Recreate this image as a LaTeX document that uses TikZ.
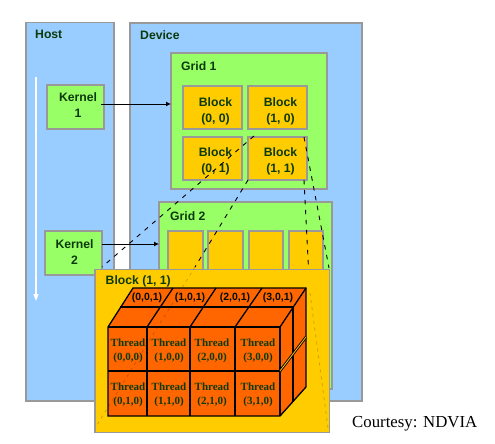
\documentclass[tikz,border=0pt]{standalone}
\usepackage{fontspec}
\setmainfont{Liberation Sans}
\newfontfamily\timesf{Liberation Serif}
\usetikzlibrary{arrows.meta,calc}
\definecolor{hostblue}{HTML}{99CCFF}
\definecolor{gridgreen}{HTML}{99FF66}
\definecolor{blockgold}{HTML}{FFCC00}
\definecolor{threadorange}{HTML}{FF6600}
\definecolor{edgegray}{HTML}{999999}
\definecolor{inkgreen}{HTML}{0C3A0C}
\newcommand{\bx}[6]{%
  \pgfmathsetmacro{\bw}{#5-#3}\pgfmathsetmacro{\bh}{#6-#4}%
  \node[#2,anchor=north west,minimum width=\bw pt,minimum height=\bh pt] (#1) at (#3,#4) {};}
\tikzset{
  panel/.style={draw=edgegray,line width=1.8pt,inner sep=0pt,outer sep=0pt,rectangle},
  hostbox/.style={panel,fill=hostblue},
  greenbox/.style={panel,fill=gridgreen},
  goldbox/.style={panel,fill=blockgold},
  lab/.style={font=\fontsize{12.2}{14}\selectfont\bfseries,text=inkgreen,inner sep=0pt,align=center},
  blocklab/.style={lab,font=\fontsize{12.2}{16}\selectfont\bfseries},
  kernlab/.style={lab,font=\fontsize{12.2}{16.5}\selectfont\bfseries},
  threadlab/.style={font=\timesf\fontsize{11}{13.5}\selectfont\bfseries,text=inkgreen,inner sep=0pt,align=center},
  toplab/.style={font=\fontsize{10.5}{12}\selectfont\bfseries,text=black!80!inkgreen,inner sep=0pt},
  callarrow/.style={draw=black,line width=1pt,-{Latex[length=5pt,width=5pt]}},
  zoomline/.style={draw=black,line width=0.9pt,dash pattern=on 4.5pt off 5.5pt},
  faintline/.style={draw=black,opacity=0.2,line width=0.8pt,dash pattern=on 3pt off 4pt},
  cubeface/.style={fill=threadorange,draw=black,line width=1.3pt,line join=miter},
  cubeline/.style={draw=black,line width=1.3pt},
}
\begin{document}
\begin{tikzpicture}[x=1pt,y=-1pt]
\useasboundingbox (0,0) rectangle (495,444);
% containers
\bx{host}{hostbox}{26}{22.5}{114}{401}
\bx{device}{hostbox}{130}{23}{362}{401}
\bx{grid1}{greenbox}{171}{53}{327}{189}
\bx{grid2}{greenbox}{159}{202}{332}{389}
% grid 1 blocks
\bx{b00}{goldbox}{183}{86}{242}{129}
\bx{b10}{goldbox}{248}{86}{307}{129}
\bx{b01}{goldbox}{183}{137}{242}{180}
\bx{b11}{goldbox}{248}{137}{307}{180}
% grid 2 blocks
\bx{ga}{goldbox}{168}{231}{203}{280}
\bx{gb}{goldbox}{208}{231}{243}{280}
\bx{gc}{goldbox}{249}{231}{283}{280}
\bx{gd}{goldbox}{289}{231}{323}{280}
% kernels
\bx{k1}{greenbox}{47}{85}{104}{129}
\bx{k2}{greenbox}{45}{231}{102}{275}
% texts
\node[lab,anchor=west] (thost) at (35,34) {Host};
\node[lab,anchor=west] (tdev) at (140,35) {Device};
\node[lab,anchor=west] (tg1) at (181,66) {Grid 1};
\node[lab,anchor=west] (tg2) at (170,216) {Grid 2};
\node[kernlab] (tk1) at (78,105) {Kernel\\1};
\node[kernlab] (tk2) at (74.5,252) {Kernel\\2};
\node[blocklab] (tb00) at (215.5,111) {Block\\(0, 0)};
\node[blocklab] (tb10) at (280.5,111) {Block\\(1, 0)};
\node[blocklab] (tb01) at (215.5,161) {Block\\(0, 1)};
\node[blocklab] (tb11) at (280.5,161) {Block\\(1, 1)};
% white execution arrow
\coordinate (ws) at (36,77);
\coordinate (we) at (36,301);
\draw[white,line width=1.4pt,-{Triangle[length=7pt,width=5pt]}] (ws) -- (we);
% kernel arrows
\coordinate (ka) at (101,104);
\draw[callarrow] (ka) -- (ka -| grid1.west);
\coordinate (kb) at (102,244);
\draw[callarrow] (kb) -- (kb -| grid2.west);
% dashed zoom lines
\coordinate (astart) at (254,136);
\coordinate (bstart) at (248,180);
\coordinate (cstart) at (304,137);
\coordinate (dstart) at (304,180);
\coordinate (aend) at (102,267);
\coordinate (bend) at (195,267);
\coordinate (cend) at (329,268);
\coordinate (dend) at (308.5,268);
\draw[zoomline] (astart) -- (aend);
\draw[zoomline] (bstart) -- (bend);
\draw[zoomline] (cstart) -- (cend);
\draw[zoomline] (dstart) -- (dend);
% enlarged block
\bx{big}{goldbox}{95}{269.5}{329.5}{432.5}
\node[lab,anchor=west] (tbig) at (105.5,281) {Block (1, 1)};
% thread cube
\coordinate (f1) at (108,327); \coordinate (f2) at (280,327);
\coordinate (f3) at (280,416); \coordinate (f4) at (108,416);
\coordinate (r1) at (133,288); \coordinate (r2) at (306,288);
\coordinate (r3) at (306,387);
\draw[cubeface] (f1) -- (r1) -- (r2) -- (r3) -- (f3) -- (f4) -- cycle;
\draw[cubeline] (f1) -- (f2) -- (f3);
\draw[cubeline] (f2) -- (r2);
\draw[cubeline] (120,307) -- (293,307) -- (293,402);
\foreach \fx/\bxx in {147/173,190/216,235/262}{
  \draw[cubeline] (\fx,327) -- (\fx,416);
  \draw[cubeline] (\fx,327) -- (\bxx,288);
}
\draw[cubeline] (108,371) -- (280,371);
\draw[draw=black,line width=2.6pt] (280,371) -- (306,337);
\draw[draw=blockgold,line width=0.8pt] (280,371) -- (306,337);
% faint continuations
\coordinate (fa) at (97,425);
\coordinate (fb) at (310,293);
\coordinate (fc) at (328,428);
\draw[faintline] (bend) -- (fa);
\draw[faintline] (fb) -- (fc);
% cube labels
\foreach \n/\x/\t in {a/147/{(0,0,1)},b/190/{(1,0,1)},c/235/{(2,0,1)},d/278/{(3,0,1)}}{
  \node[toplab] (top\n) at (\x,298) {\t};
}
\foreach \n/\x/\y/\t in {a/128/351/{(0,0,0)},b/169/351/{(1,0,0)},c/212/351/{(2,0,0)},d/258/351/{(3,0,0)},
                        e/128/395/{(0,1,0)},f/169/395/{(1,1,0)},g/212/395/{(2,1,0)},h/258/395/{(3,1,0)}}{
  \node[threadlab] (th\n) at (\x,\y) {Thread\\\t};
}
\node[font=\timesf\fontsize{16.8}{18}\selectfont,anchor=west,inner sep=0pt,text=black] (court) at (352,424) {Courtesy: NDVIA};
\end{tikzpicture}
\end{document}
